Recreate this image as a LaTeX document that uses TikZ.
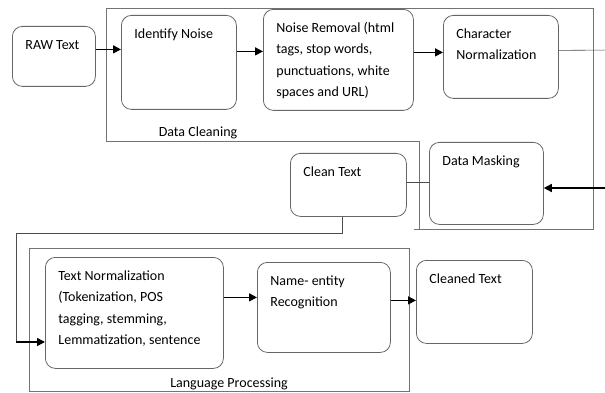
\documentclass[tikz,border=0pt]{standalone}
\usepackage{fontspec}
\setmainfont{Carlito}
\usetikzlibrary{arrows.meta,positioning,calc}
\newcommand{\blocktext}[3]{\parbox[t][#1][t]{#2}{\rule{0pt}{23pt}#3}}

\begin{document}
\begin{tikzpicture}[x=1pt, y=-1pt,
  every node/.style={font=\fontsize{14}{21.5}\selectfont},
  block/.style={draw=black!60, line width=0.8pt, rounded corners=10pt, inner xsep=13pt, inner ysep=0pt, anchor=north west},
  frame/.style={draw=black!55, line width=0.8pt},
  link/.style={draw=black!70, line width=0.6pt},
  arr/.style={line width=1.5pt, -{Triangle[length=8pt,width=8pt]}}]

\useasboundingbox (0,0) rectangle (605,393);

% Data cleaning part

\draw[frame] (419,141) -- (106,141) -- (106,8) -- (593,8) -- (593,229) -- (414,229);
\draw[frame] (419,141) -- (419,229);
\node (dclabel) at (198,133) {Data Cleaning};

\node (raw) [block] at (12,26) {\blocktext{60pt}{57pt}{RAW Text}};
\node (idn) [block] at (121,15) {\blocktext{94pt}{89pt}{Identify Noise}};
\node (nrm) [block] at (263,9) {\blocktext{101pt}{124pt}{Noise Removal (html\\ tags, stop words,\\ punctuations, white\\ spaces and URL)}};
\node (chr) [block] at (443,15) {\blocktext{83pt}{89pt}{Character\\ Normalization}};
\node (msk) [block] at (429,142) {\blocktext{82pt}{88pt}{Data Masking}};
\node (cln) [block] at (290,153) {\blocktext{63pt}{90pt}{Clean Text}};

\draw[arr] ([yshift=7pt]raw.east) -- ([yshift=7pt]raw.east -| idn.west);
\draw[arr] ([yshift=11pt]idn.east) -- ([yshift=11pt]idn.east -| nrm.west);
\draw[arr] ([yshift=7.5pt]nrm.east) -- ([yshift=7.5pt]nrm.east -| chr.west);

% loop back over the right edge
\coordinate (rtop) at (612,50);
\coordinate (rbot) at (612,188);
\draw[link] ([yshift=6.5pt]chr.east) -- (rtop) -- (rbot);
\draw[arr] (rbot) -- (rbot -| msk.east);
\draw[link] ([yshift=2.5pt]cln.east) -- ([yshift=2.5pt]cln.east -| msk.west);

% Language processing part

\draw[frame] (29,248) rectangle (409,391);
\node (lplabel) at (229,384) {Language Processing};

\node (tnm) [block] at (45,257) {\blocktext{111pt}{152pt}{Text Normalization\\ (Tokenization, POS\\ tagging, stemming,\\ Lemmatization, sentence}};
\node (ner) [block] at (257,262) {\blocktext{90pt}{107pt}{Name- entity\\ Recognition}};
\node (out) [block] at (416,260) {\blocktext{83pt}{90pt}{Cleaned Text}};

\coordinate (lbend) at (16,342);
\draw[link] ([xshift=-6pt]cln.south) |- (16,233) -- (lbend);
\draw[arr] (lbend) -- (lbend -| tnm.west);
\draw[arr] ([yshift=15.5pt]tnm.east) -- ([yshift=15.5pt]tnm.east -| ner.west);
\draw[arr] ([yshift=7pt]ner.east) -- ([yshift=7pt]ner.east -| out.west);

\end{tikzpicture}
\end{document}
